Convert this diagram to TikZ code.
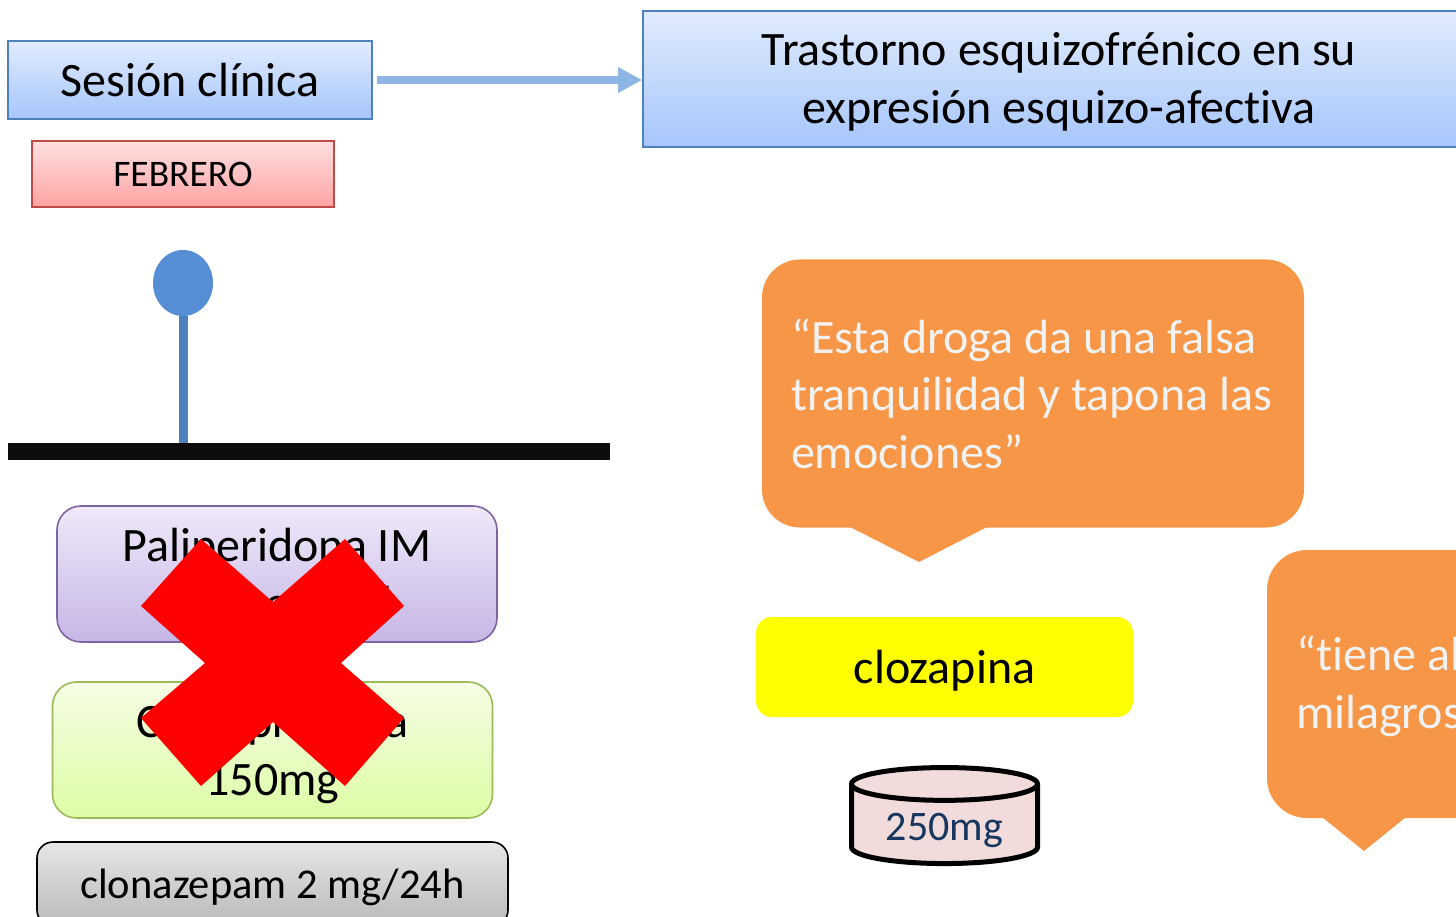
\documentclass[tikz,border=0pt]{standalone}
\usepackage{fontspec}
\setmainfont{Carlito}[Ligatures=NoCommon]
\usetikzlibrary{arrows.meta,shapes.geometric}
\definecolor{bluetop}{HTML}{E1EBFD}
\definecolor{bluebot}{HTML}{A6C6FB}
\definecolor{blueline}{HTML}{4F81BD}
\definecolor{arrowblue}{HTML}{8EB4E3}
\definecolor{pinblue}{HTML}{558ED5}
\definecolor{redtop}{HTML}{FFE0E0}
\definecolor{redbot}{HTML}{FFA3A3}
\definecolor{redline}{HTML}{BE4B48}
\definecolor{purpletop}{HTML}{EFE9F9}
\definecolor{purplebot}{HTML}{C6B6E6}
\definecolor{purpleline}{HTML}{8064A2}
\definecolor{greentop}{HTML}{F6FDE4}
\definecolor{greenbot}{HTML}{DCFDA6}
\definecolor{greenline}{HTML}{9BBB59}
\definecolor{graytop}{HTML}{E6E6E6}
\definecolor{graybot}{HTML}{B9B9B9}
\definecolor{quoteorange}{HTML}{F79646}
\definecolor{quotetext}{HTML}{F2F2F2}
\definecolor{pillfill}{HTML}{F2DCDB}
\definecolor{pilltext}{HTML}{17375E}
\definecolor{markyellow}{HTML}{FFFF00}
\definecolor{crossred}{HTML}{FF0000}
\newcommand{\fsize}[2]{\fontsize{#1}{#2}\selectfont}

\begin{document}
\begin{tikzpicture}[x=1pt,y=-1pt,
  title box/.style={rectangle, draw=blueline, line width=1.6pt, top color=bluetop, bottom color=bluebot, align=center, inner sep=0pt, font=\fsize{48}{57.5}},
  drug box/.style={rectangle, rounded corners=24pt, line width=1.6pt, align=center, inner sep=0pt, minimum width=440pt, minimum height=136pt, font=\fsize{48}{57.5}},
  box text/.style={align=center, inner sep=0pt, font=\fsize{48}{57.5}},
  quote box/.style={rectangle, rounded corners=38pt, fill=quoteorange, text=quotetext, align=flush left, inner xsep=29pt, inner ysep=0pt, font=\fsize{48}{57.5}}]
  \useasboundingbox (0,0) rectangle (1456,917);

  \node[title box, minimum width=364pt, minimum height=78pt] (sesion) at (190,80) {Sesión clínica};
  \node[title box, minimum width=832pt, minimum height=136pt, label={[box text, yshift=-3pt]center:{Trastorno esquizofrénico en su\\expresión esquizo-afectiva}}] (trastorno) at (1059,79) {};
  \node[rectangle, draw=redline, line width=1.6pt, top color=redtop, bottom color=redbot, minimum width=302pt, minimum height=66pt, inner sep=0pt, font=\fsize{37.5}{45}] (febrero) at (183,174) {FEBRERO};
  \draw[arrowblue, line width=8pt, -{Triangle[length=24pt,width=24pt]}, shorten <=4.5pt] (sesion.east) -- (trastorno.west |- sesion.east);

  \node[rectangle, fill=black!95, minimum width=602pt, minimum height=17pt, inner sep=0pt] (linea) at (309,451.5) {};
  \node[ellipse, fill=pinblue, minimum width=60pt, minimum height=66pt, inner sep=0pt] (hito) at (183,283) {};
  \draw[blueline, line width=9pt] (hito.south) -- (hito |- linea.north);

  \node[drug box, draw=purpleline, top color=purpletop, bottom color=purplebot] (pali) at (277,574) {Paliperidona IM\\\hspace*{65pt}mensual};
  \node[drug box, draw=greenline, top color=greentop, bottom color=greenbot, label={[box text, yshift=-4pt]center:{Clomipramina\\150mg}}] (cloro) at (272.5,750) {};
  \node[drug box, rounded corners=16pt, draw=black, top color=graytop, bottom color=graybot, minimum width=471pt, minimum height=84pt, label={[box text, yshift=-3pt, font=\fsize{42.5}{50}]center:{clonazepam 2 mg/24h}}] (clona) at (272.5,884) {};
  \fill[crossred] (201,539) -- (273,602) -- (345,539) -- (404,606) -- (341,663) -- (404,718) -- (345,786) -- (273,722) -- (201,786) -- (141,718) -- (205,663) -- (141,606) -- cycle;

  \node[quote box, text width=484pt, minimum height=268pt] (frase1) at (1033,393.5) {“Esta droga da una falsa\\tranquilidad y tapona las\\emociones”};
  \coordinate (punta1) at (919,562);
  \fill[quoteorange] (850,527) -- (punta1) -- (987,527) -- cycle;
  \node[quote box, text width=380pt, minimum height=268pt, rounded corners=40pt] (frase2) at (1486,684) {\rule{0pt}{39pt}“tiene al\\milagros};
  \coordinate (punta2) at (1364,851);
  \fill[quoteorange] (1322,817) -- (punta2) -- (1406,817) -- cycle;

  \node[rectangle, rounded corners=16pt, fill=markyellow, minimum width=377pt, minimum height=100pt, inner sep=0pt, label={[box text, yshift=-4pt]center:{clozapina}}] (cloza) at (944.5,667) {};
  \node[cylinder, shape border rotate=90, aspect=0.28, draw=black, line width=5pt, fill=pillfill, minimum width=186pt, minimum height=96pt, inner sep=0pt, font=\fsize{42}{50}, label={[box text, yshift=-5pt, text=pilltext, font=\fsize{42}{50}]center:{250mg}}] (dosis) at (944.5,825) {\phantom{250mg}};
\end{tikzpicture}
\end{document}
